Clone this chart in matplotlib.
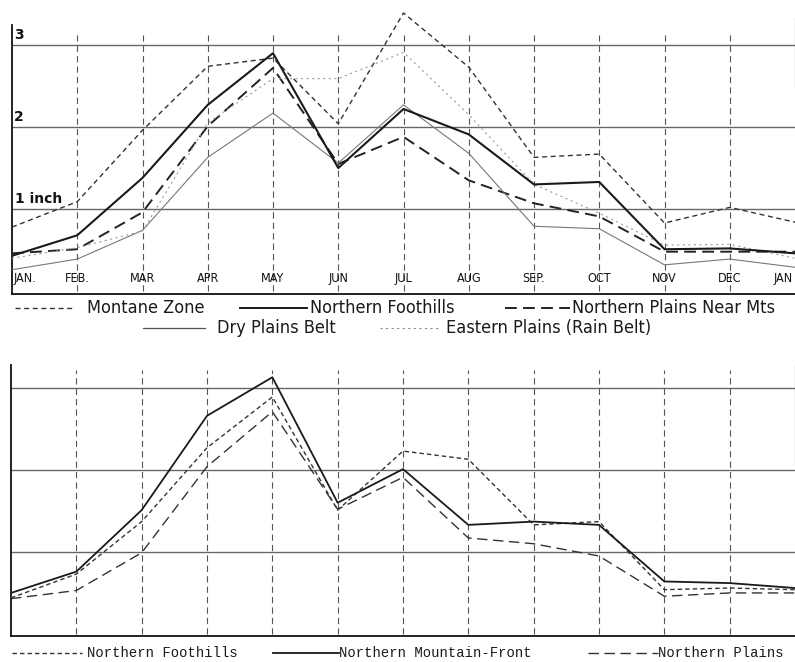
import matplotlib
matplotlib.use("Agg")
import matplotlib.pyplot as plt
import numpy as np

plt.rcParams['lines.scale_dashes'] = False

# month labels (Jan .. Jan)
months = ["JAN.", "FEB.", "MAR", "APR", "MAY", "JUN", "JUL", "AUG",
          "SEP.", "OCT", "NOV", "DEC", "JAN"]

# upper chart, inches of rain per month
montane = [0.78, 1.09, 1.96, 2.74, 2.84, 2.04, 3.39, 2.73, 1.63, 1.67, 0.83, 1.02, 0.84]
foothills = [0.43, 0.68, 1.38, 2.27, 2.90, 1.50, 2.22, 1.91, 1.30, 1.33, 0.51, 0.52, 0.46]
plains_near_mts = [0.46, 0.51, 0.96, 2.01, 2.72, 1.55, 1.88, 1.35, 1.07, 0.91, 0.48, 0.48, 0.48]
dry_plains = [0.26, 0.39, 0.74, 1.63, 2.17, 1.56, 2.27, 1.68, 0.79, 0.76, 0.32, 0.39, 0.29]
eastern_plains = [0.40, 0.53, 0.73, 2.05, 2.59, 2.59, 2.91, 2.15, 1.30, 0.95, 0.56, 0.57, 0.40]

# lower chart
low_foothills = [0.44, 0.73, 1.37, 2.27, 2.89, 1.51, 2.23, 2.13, 1.33, 1.37, 0.54, 0.56, 0.54]
mountain_front = [0.50, 0.76, 1.51, 2.66, 3.13, 1.60, 2.01, 1.33, 1.37, 1.33, 0.64, 0.62, 0.56]
low_plains = [0.43, 0.53, 0.99, 2.04, 2.71, 1.52, 1.91, 1.17, 1.10, 0.95, 0.46, 0.50, 0.50]

x = np.arange(len(months))

fig = plt.figure(figsize=(7.95, 6.62), dpi=100)

GRID_H = dict(color='#666666', lw=1.0)
GRID_V = dict(color='#555555', lw=0.8, linestyle=(0, (4.5, 3)))


def frame(ax, ylim, spine_top, vtop, right_bounds):
	ax.set_xlim(0, 12)
	ax.set_ylim(*ylim)
	ax.spines['top'].set_visible(False)
	ax.spines['right'].set_bounds(*right_bounds)
	ax.spines['right'].set_color('#444444')
	ax.spines['left'].set_bounds(ylim[0], spine_top)
	for s in ['left', 'bottom']:
		ax.spines[s].set_linewidth(1.3)
		ax.spines[s].set_color('#111111')
	ax.set_xticks([])
	ax.set_yticks([])
	ax.hlines([1, 2, 3], 0, 12, zorder=1, **GRID_H)
	ax.vlines(x[1:-1], 0, vtop, zorder=1, **GRID_V)


# ---- upper chart
ax1 = fig.add_axes([12 / 795, 0.5566, 1 - 12 / 795, 0.4374])
frame(ax1, (-0.03, 3.5), 3.24, 3.12, (2.49, 3.33))

ax1.plot(x, montane, color='#333333', lw=1.0, linestyle=(0, (3.6, 2.6)), zorder=3)
ax1.plot(x, foothills, color='#1a1a1a', lw=1.5, zorder=4)
ax1.plot(x, plains_near_mts, color='#222222', lw=1.4, linestyle=(0, (8.5, 4.5)), zorder=3)
ax1.plot(x, dry_plains, color='#777777', lw=0.8, zorder=3)
ax1.plot(x, eastern_plains, color='#9a9a9a', lw=0.8, linestyle=(0, (1.5, 2.5)), zorder=3)

mfont = dict(va='center', fontsize=9, color='#111111', family='DejaVu Sans', fontstretch='condensed')
for i, m in enumerate(months):
	if i == 0:
		ax1.text(0.03, 0.15, m, ha='left', **mfont)
	elif i == len(months) - 1:
		ax1.text(12 - 0.03, 0.15, m, ha='right', **mfont)
	else:
		ax1.text(i, 0.15, m, ha='center', **mfont)

ax1.text(0.03, 3.04, "3", ha='left', va='bottom', fontsize=10, fontweight='bold', color='#111111')
ax1.text(0.03, 2.04, "2", ha='left', va='bottom', fontsize=10, fontweight='bold', color='#111111')
ax1.text(0.05, 1.04, "1 inch", ha='left', va='bottom', fontsize=10, fontweight='bold', color='#111111')

# ---- lower chart
ax2 = fig.add_axes([11 / 795, 0.0399, 1 - 11 / 795, 0.4088])
frame(ax2, (-0.02, 3.28), 3.28, 3.22, (2.07, 3.28))

ax2.plot(x, low_foothills, color='#333333', lw=1.0, linestyle=(0, (3.2, 2.2)), zorder=3)
ax2.plot(x, mountain_front, color='#1a1a1a', lw=1.3, zorder=4)
ax2.plot(x, low_plains, color='#333333', lw=1.0, linestyle=(0, (7.5, 4)), zorder=3)

# ---- hand-placed legends (pixel space overlay)
lg = fig.add_axes([0, 0, 1, 1])
lg.set_xlim(0, 795)
lg.set_ylim(662, 0)
lg.axis('off')

top_font = dict(family='DejaVu Sans', fontstretch='condensed', fontsize=13,
                color='#1a1a1a', va='center')
top_items = [
	(15, 75, 308, dict(color='#333333', lw=1.0, linestyle=(0, (3.6, 2.6))), "Montane Zone", 87),
	(240, 307, 308, dict(color='#1a1a1a', lw=1.4), "Northern Foothills", 310),
	(505, 570, 308, dict(color='#222222', lw=1.4, linestyle=(0, (8.5, 4.5))), "Northern Plains Near Mts", 572),
	(143, 205, 328, dict(color='#555555', lw=0.9), "Dry Plains Belt", 217),
	(380, 440, 328, dict(color='#888888', lw=0.8, linestyle=(0, (1.5, 2.5))), "Eastern Plains (Rain Belt)", 446),
]
for x0, x1, yy, st, label, tx in top_items:
	lg.plot([x0, x1], [yy, yy], **st)
	lg.text(tx, yy, label, **top_font)

bot_font = dict(family=['Liberation Mono', 'DejaVu Sans Mono'], fontsize=10, color='#1a1a1a', va='center')
bot_items = [
	(12, 82, 653, dict(color='#333333', lw=1.0, linestyle=(0, (3.2, 2.2))), "Northern Foothills", 87),
	(273, 339, 653, dict(color='#1a1a1a', lw=1.3), "Northern Mountain-Front", 339),
	(588, 658, 653, dict(color='#333333', lw=1.0, linestyle=(0, (7.5, 4))), "Northern Plains", 658),
]
for x0, x1, yy, st, label, tx in bot_items:
	lg.plot([x0, x1], [yy, yy], **st)
	lg.text(tx, yy, label, **bot_font)

fig.savefig("out.png", dpi=100)
